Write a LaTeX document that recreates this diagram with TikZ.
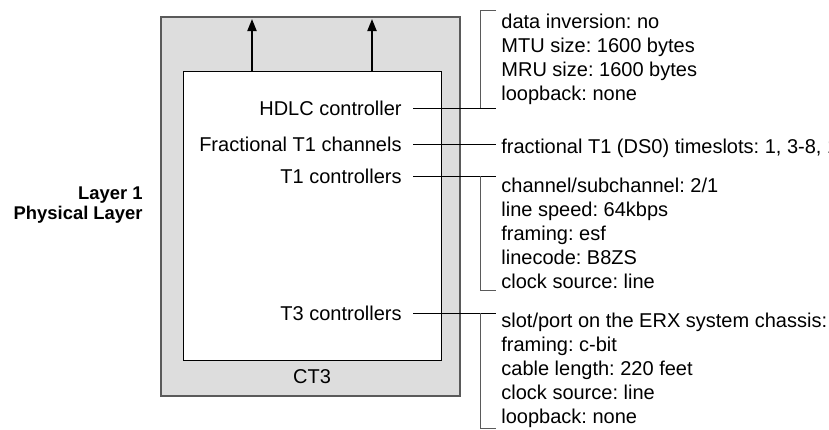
\documentclass[tikz,border=0pt]{standalone}
\usepackage{fontspec}
\setmainfont{Liberation Sans}
\usepackage{tikz}
\usetikzlibrary{arrows.meta}
\frenchspacing

\definecolor{boxgray}{RGB}{221,221,221}
\definecolor{rulegray}{RGB}{90,90,90}

\tikzset{
  ctrl/.style={anchor=east, inner xsep=5.5pt, inner ysep=0pt, font=\fontsize{10}{12}\selectfont},
  info/.style={anchor=west, align=left, inner xsep=2.5pt, inner ysep=0pt, font=\fontsize{10}{12}\selectfont},
  lead/.style={draw=black, line width=0.5pt},
  brace/.style={draw=rulegray, line width=0.5pt}
}

\begin{document}
\begin{tikzpicture}[x=0.5pt, y=-0.5pt]

\useasboundingbox (0,0) rectangle (829,429);

\draw[fill=boxgray, draw=rulegray, line width=0.6pt] (161,17) rectangle (460,396);
\draw[fill=white, draw=black, line width=0.5pt] (183,71) rectangle (441,360);

\coordinate (a1) at (252,71);
\coordinate (a2) at (372,71);

\foreach \i in {a1,a2}
    \draw[line width=1pt, -{Triangle[length=6pt,width=4.5pt]}] (\i) -- ++(0,-52);

\node at (312,377) {\fontsize{10}{12}\selectfont CT3};

\node[anchor=east, align=right, inner sep=0pt, font=\fontsize{9.2}{10}\selectfont\bfseries] (layer) at (143,205) {Layer 1\\Physical Layer};

\node[ctrl] (hdlc) at (413,108) {HDLC controller};
\node[ctrl] (frac) at (413,144) {Fractional T1 channels};
\node[ctrl] (t1) at (413,176) {T1 controllers};
\node[ctrl] (t3) at (413,313) {T3 controllers};

\coordinate (h) at (496,108);
\coordinate (f) at (496,144);
\coordinate (t) at (496,176);
\coordinate (s) at (496,313);

\draw[lead] (hdlc.east) -- (h);
\draw[lead] (frac.east) -- (f);
\draw[lead] (t1.east) -- (t);
\draw[lead] (t3.east) -- (s);

\draw[brace] (496,10) -- (480,10) -- (480,108);
\draw[brace] (480,176) -- (480,290) -- (496,290);
\draw[brace] (480,313) -- (480,428) -- (496,428);

\node[info] (hdlcinfo) at (496,59) {data inversion: no\\MTU size: 1600 bytes\\MRU size: 1600 bytes\\loopback: none};
\node[info] (fracinfo) at (496,148) {fractional T1 (DS0) timeslots: 1, 3-8, 1};
\node[info] (t1info) at (496,233) {channel/subchannel: 2/1\\line speed: 64kbps\\framing: esf\\linecode: B8ZS\\clock source: line};
\node[info] (t3info) at (496,370) {slot/port on the ERX system chassis:\\framing: c-bit\\cable length: 220 feet\\clock source: line\\loopback: none};

\end{tikzpicture}
\end{document}
